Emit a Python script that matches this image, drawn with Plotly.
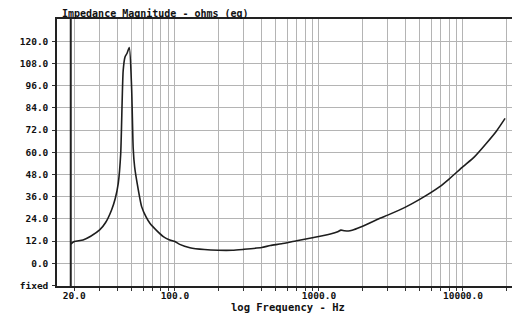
import plotly.graph_objects as go

# Data
freq_hz = [18.9, 20, 23, 26, 30, 33, 36.3, 38.5, 40.4, 42, 43.7, 45, 46.5, 48.2,
           50, 51.3, 52.5, 54.7, 58.7, 63, 67, 75, 83, 92, 100, 108, 127, 160, 200,
           250, 300, 400, 460, 550, 700, 900, 1200, 1350, 1420, 1500, 1600, 1700,
           1930, 2650, 3000, 4050, 5000, 6900, 8000, 10000, 12000, 14600, 17100, 19600]
impedance = [10.4, 11.7, 12.6, 14.6, 18.0, 22.0, 28.8, 35.0, 43.2, 59.0, 104.0, 111.5, 113.5, 116.6,
             95.0, 62.0, 52.0, 43.0, 30.6, 25.0, 21.6, 17.5, 14.4, 12.6, 11.7, 10.2, 8.4, 7.4, 7.0,
             7.0, 7.5, 8.5, 9.6, 10.5, 12.2, 13.8, 15.8, 17.0, 17.9, 17.6, 17.4, 17.8,
             19.4, 24.3, 26.0, 30.6, 34.5, 41.4, 45.5, 52.2, 57.5, 65.0, 71.5, 78.3]

y_tick_vals = [-12, 0, 12, 24, 36, 48, 60, 72, 84, 96, 108, 120]
y_tick_text = ["fixed", "0.0", "12.0", "24.0", "36.0", "48.0", "60.0", "72.0",
               "84.0", "96.0", "108.0", "120.0"]
x_tick_vals = [20, 100, 1000, 10000]
x_tick_text = ["20.0", "100.0", "1000.0", "10000.0"]
x_minor_vals = [30, 40, 50, 60, 70, 80, 90, 200, 300, 400, 500, 600, 700, 800, 900,
                2000, 3000, 4000, 5000, 6000, 7000, 8000, 9000, 20000]

y_range = [-12.3, 132.0]
marker_freq = freq_hz[0]

FONT = "DejaVu Sans Mono"
GRID = "#b4b4b4"

# The page body adds an 8 px margin, so the figure is 8 px smaller each way.
W, H = 512, 305
ML, MR, MT, MB = 49, 2, 11, 27
PH = H - MT - MB

fig = go.Figure()
fig.add_trace(go.Scatter(x=[marker_freq, marker_freq], y=y_range, mode="lines",
                         line=dict(color="#222222", width=2), hoverinfo="skip",
                         showlegend=False))
fig.add_trace(go.Scatter(x=freq_hz, y=impedance, mode="lines",
                         line=dict(color="#1e1e1e", width=1.6, shape="spline",
                                   smoothing=0.6),
                         showlegend=False))

fig.update_layout(
    width=W, height=H,
    margin=dict(l=ML, r=MR, t=MT, b=MB, autoexpand=False),
    paper_bgcolor="white", plot_bgcolor="white",
    title=dict(text="Impedance Magnitude - ohms (eq)", x=54 / W, xanchor="left",
               y=1 - 1.5 / H, yanchor="top",
               font=dict(family=FONT, size=10, color="#111111", weight="bold")),
    font=dict(family=FONT, color="#111111"),
    annotations=[dict(text="log Frequency - Hz", xref="paper", yref="paper",
                      x=0.5, y=-21 / PH, xanchor="center", yanchor="middle",
                      showarrow=False,
                      font=dict(family=FONT, size=10.5, weight="bold", color="#111111"))],
)
fig.update_xaxes(
    type="log", range=[1.181, 4.382], automargin=False,
    tickvals=x_tick_vals, ticktext=x_tick_text,
    tickfont=dict(family=FONT, size=9.5, weight="bold"),
    ticklabelstandoff=-3,
    showgrid=True, gridcolor=GRID, gridwidth=1,
    ticks="outside", ticklen=3, tickcolor="#333333",
    minor=dict(tickvals=x_minor_vals, showgrid=True, gridcolor=GRID, gridwidth=1,
               ticks="outside", ticklen=3, tickcolor="#333333"),
    showline=True, linecolor="#222222", linewidth=1.5, mirror=True,
    zeroline=False,
)
fig.update_yaxes(
    range=y_range, automargin=False,
    tickvals=y_tick_vals, ticktext=y_tick_text,
    tickfont=dict(family=FONT, size=9.5, weight="bold"),
    ticklabelstandoff=2,
    showgrid=True, gridcolor=GRID, gridwidth=1,
    ticks="outside", ticklen=3, tickcolor="#333333",
    showline=True, linecolor="#222222", linewidth=1.5, mirror=True,
    zeroline=False,
)

fig.write_html("out.html")
